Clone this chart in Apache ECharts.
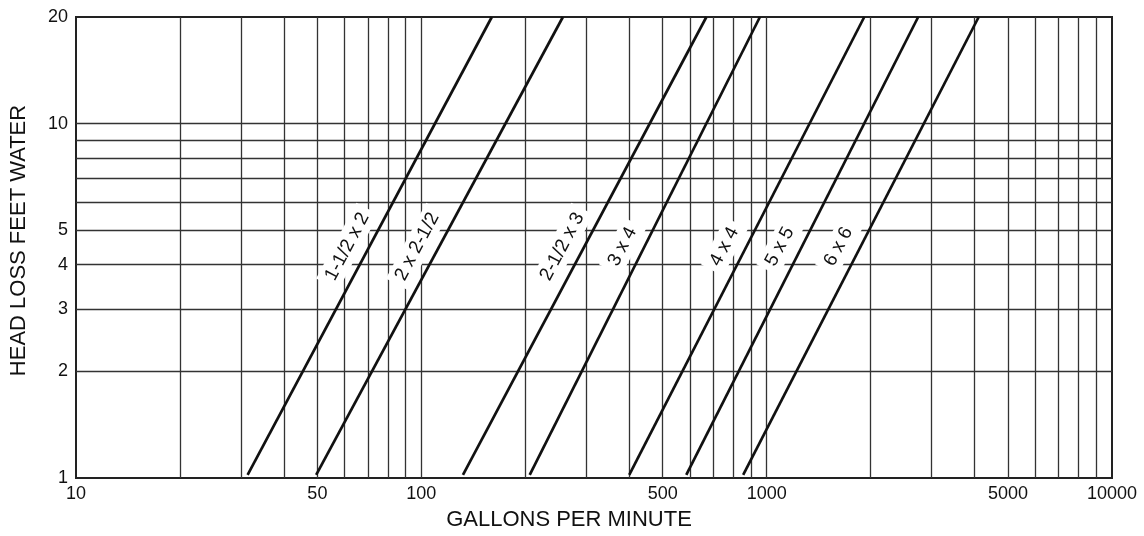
<!DOCTYPE html>
<html><head><meta charset="utf-8">
<script src="https://cdn.jsdelivr.net/npm/echarts@6/dist/echarts.min.js"></script>
<style>html,body{margin:0;padding:0;background:#fff}#c{width:1144px;height:536px}</style>
</head><body><div id="c"></div>
<script>
// Pipe size curves: flow (GPM) at the low-head end and at the top (20 ft) end
const pipeSizes = ['1-1/2 x 2', '2 x 2-1/2', '2-1/2 x 3', '3 x 4', '4 x 4', '5 x 5', '6 x 6'];
const gpmAtLowHead = [31.4, 49.6, 132, 206, 400, 585, 855];
const gpmAtHighHead = [160, 257, 669, 956, 1917, 2746, 4111];
const lowHead = 1.02;
const highHead = 20;
const labelHead = 4.5;

const xTickLabels = [10, 50, 100, 500, 1000, 5000, 10000];
const yTickLabels = [1, 2, 3, 4, 5, 10, 20];
const xGridValues = [20, 30, 40, 50, 60, 70, 80, 90, 100, 200, 300, 400, 500, 600, 700, 800, 900, 1000, 2000, 3000, 4000, 5000, 6000, 7000, 8000, 9000];
const yGridValues = [2, 3, 4, 5, 6, 7, 8, 9, 10];

const INK = '#111111';
const GRID = '#333333';
const FONT = '"Liberation Sans", Arial, Helvetica, sans-serif';

const chart = echarts.init(document.getElementById('c'), null, {renderer: 'canvas'});

const lineSeries = pipeSizes.map((name, i) => ({
  type: 'line', name: name, z: 5, symbol: 'none', silent: true, animation: false,
  lineStyle: {color: INK, width: 2.7},
  data: [[gpmAtLowHead[i], lowHead], [gpmAtHighHead[i], highHead]]
}));

const L = Math.log10;
const labelData = pipeSizes.map((name, i) => {
  const t = (L(labelHead) - L(lowHead)) / (L(highHead) - L(lowHead));
  const lq = L(gpmAtLowHead[i]) + t * (L(gpmAtHighHead[i]) - L(gpmAtLowHead[i])) - 0.064;
  return {name: name, value: [Math.pow(10, lq), labelHead]};
});

const labelSeries = {
  type: 'scatter', z: 3, symbolSize: 0, silent: true, animation: false,
  itemStyle: {color: '#fff', opacity: 0},
  data: labelData,
  label: {
    show: true, position: 'inside', rotate: 62, formatter: '{b}',
    fontFamily: FONT, fontSize: 19, color: INK, opacity: 1,
    textBorderWidth: 0, textBorderColor: 'transparent', textShadowBlur: 0,
    backgroundColor: '#fff', padding: [3, 6]
  },
  markLine: {
    z: 1, silent: true, symbol: 'none', animation: false,
    label: {show: false},
    lineStyle: {type: 'solid', color: GRID, width: 1.3},
    data: xGridValues.map(v => ({xAxis: v})).concat(yGridValues.map(v => ({yAxis: v})))
  }
};

chart.setOption({
  animation: false,
  backgroundColor: '#fff',
  grid: {left: 75, right: 32, top: 17, bottom: 56, show: true, borderColor: '#222', borderWidth: 2, backgroundColor: 'transparent'},
  xAxis: {
    type: 'log', logBase: 10, min: 10, max: 10000,
    axisLine: {show: false}, axisTick: {show: false}, splitLine: {show: false},
    axisLabel: {customValues: xTickLabels, formatter: v => String(Math.round(v)), fontFamily: FONT, fontSize: 18, color: INK, margin: 7},
    name: 'GALLONS PER MINUTE', nameLocation: 'middle', nameGap: 31,
    nameTextStyle: {fontFamily: FONT, fontSize: 22, color: INK, padding: [0, 50, 0, 0]}
  },
  yAxis: {
    type: 'log', logBase: 10, min: 1, max: 20,
    axisLine: {show: false}, axisTick: {show: false}, splitLine: {show: false},
    axisLabel: {customValues: yTickLabels, formatter: v => String(Math.round(v)), fontFamily: FONT, fontSize: 18, color: INK, margin: 8},
    name: 'HEAD LOSS FEET WATER', nameLocation: 'middle', nameGap: 46,
    nameTextStyle: {fontFamily: FONT, fontSize: 22, color: INK, padding: [0, 0, 0, 14]}
  },
  series: lineSeries.concat([labelSeries])
});
</script>
</body></html>
